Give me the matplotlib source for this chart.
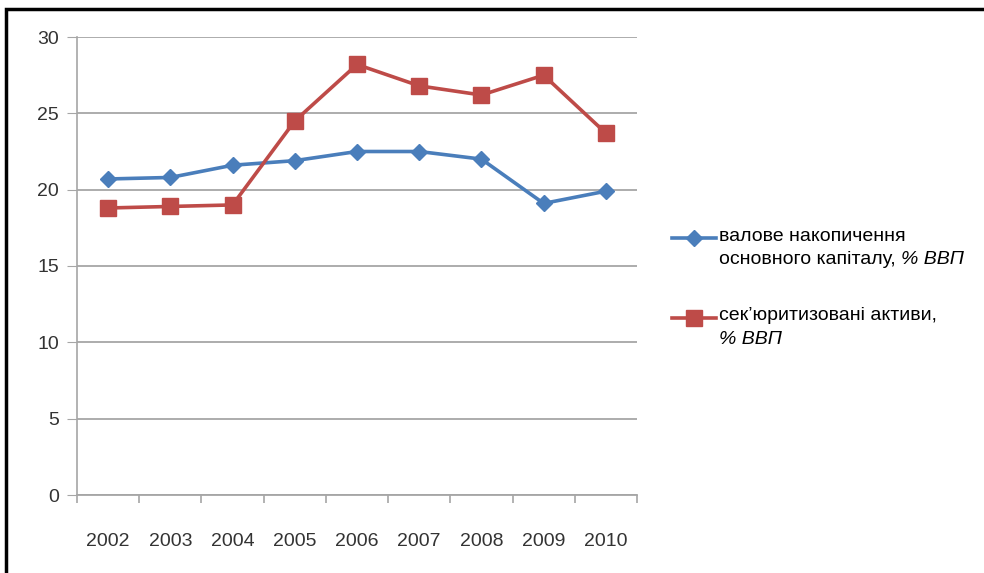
import matplotlib
matplotlib.use("Agg")
import matplotlib.pyplot as plt
from matplotlib.lines import Line2D
from matplotlib.patches import Rectangle

years = ["2002", "2003", "2004", "2005", "2006", "2007", "2008", "2009", "2010"]
gross_capital = [20.7, 20.8, 21.6, 21.9, 22.5, 22.5, 22.0, 19.1, 19.9]
securitized = [18.8, 18.9, 19.0, 24.5, 28.2, 26.8, 26.2, 27.5, 23.7]
yticks = [0, 5, 10, 15, 20, 25, 30]

blue = "#4A7EBB"
red = "#BE4B48"
grid_col = "#A6A6A6"

plt.rcParams['font.family'] = ['Liberation Sans', 'DejaVu Sans']

fig = plt.figure(figsize=(9.84, 5.73), dpi=100)
ax = fig.add_axes([77/984, 1-495/573, 560/984, 458/573])

x = list(range(len(years)))
ax.plot(x, gross_capital, color=blue, lw=2.6, marker='D', ms=8.5, mec=blue, mfc=blue)
ax.plot(x, securitized, color=red, lw=2.6, marker='s', ms=11, mec=red, mfc=red)

ax.set_xlim(-0.5, len(years) - 0.5)
ax.set_ylim(0, 30)
ax.set_yticks(yticks)
ax.set_yticklabels([str(v) for v in yticks], fontsize=14, color="#333333")
ax.set_xticks(x)
ax.set_xticklabels(years, fontsize=14, color="#333333")
ax.tick_params(axis='x', length=0, pad=27)
ax.tick_params(axis='y', length=7, color=grid_col, pad=6)
ax.set_xticks([i - 0.5 for i in range(len(years) + 1)], minor=True)
ax.tick_params(axis='x', which='minor', length=6, color=grid_col, width=1.2)
ax.grid(axis='y', color=grid_col, lw=1.3)
ax.set_axisbelow(True)
for s in ['top', 'right']:
    ax.spines[s].set_visible(False)
ax.spines['left'].set_color(grid_col)
ax.spines['bottom'].set_color(grid_col)
ax.spines['left'].set_linewidth(1.2)
ax.spines['bottom'].set_linewidth(1.3)

# legend by hand (mixed upright / italic text)
fs = 14
y1 = 1 - 238/573
fig.add_artist(Line2D([672/984, 716/984], [y1, y1], color=blue, lw=2.6))
fig.add_artist(Line2D([694/984], [y1], color=blue, marker='D', ms=8.5, mec=blue, mfc=blue))
fig.text(719/984, 1 - 236/573, "валове накопичення", fontsize=fs, va='center', ha='left')
t_a = fig.text(719/984, 1 - 260/573, "основного капіталу, ", fontsize=fs, va='center', ha='left')
ax.annotate("% ВВП", xy=(1, 0), xycoords=t_a, va='bottom', ha='left',
            fontsize=fs, fontstyle='italic', annotation_clip=False)

y2 = 1 - 318/573
fig.add_artist(Line2D([672/984, 716/984], [y2, y2], color=red, lw=2.6))
fig.add_artist(Line2D([694/984], [y2], color=red, marker='s', ms=11, mec=red, mfc=red))
fig.text(719/984, 1 - 316/573, "сек’юритизовані активи,", fontsize=fs, va='center', ha='left')
fig.text(719/984, 1 - 340/573, "% ВВП", fontsize=fs, va='center', ha='left', fontstyle='italic')

# outer frame (right and bottom edges fall outside the picture)
fig.add_artist(Rectangle((6/984, -0.05), 1.2, 1 - 9/573 + 0.05, transform=fig.transFigure,
                         fill=False, ec='black', lw=2.5, clip_on=False))

fig.savefig("out.png", dpi=100)
